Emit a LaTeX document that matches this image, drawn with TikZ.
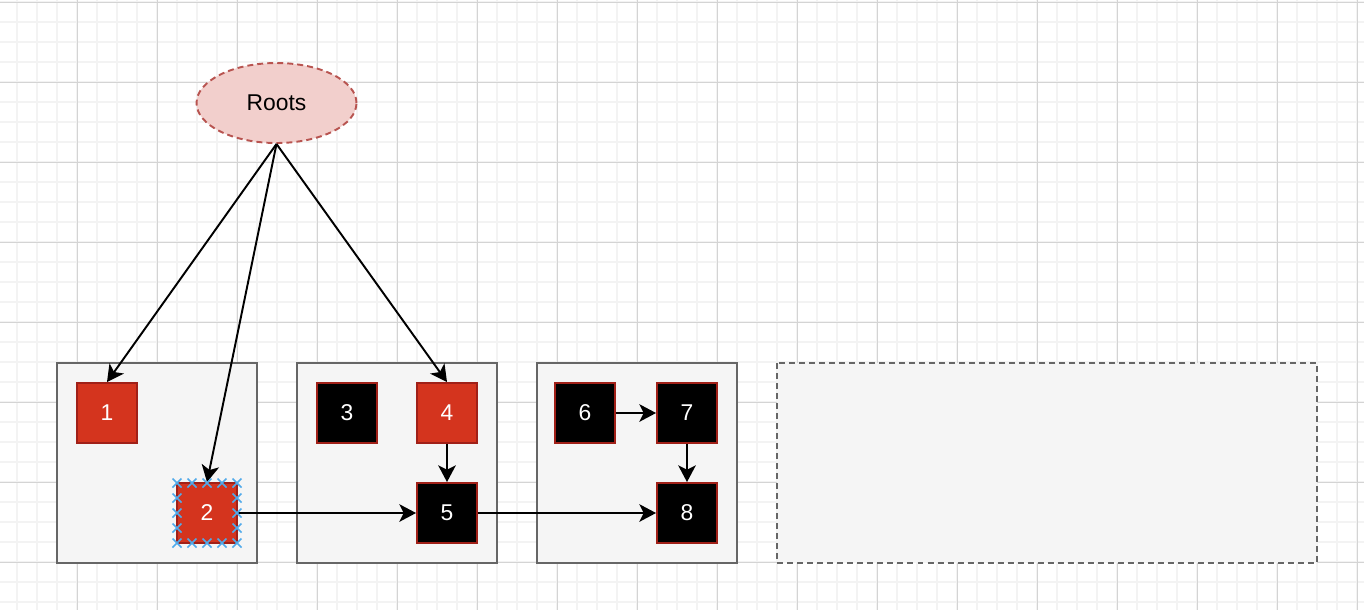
\documentclass[tikz,border=0pt]{standalone}
\usepackage{fontspec}
\setmainfont{Liberation Sans}
\usetikzlibrary{arrows.meta,shapes.geometric}

\definecolor{redfill}{RGB}{212,52,30}
\definecolor{objline}{RGB}{160,32,24}
\definecolor{rootfill}{RGB}{242,207,204}
\definecolor{rootline}{RGB}{184,84,80}
\definecolor{boxfill}{RGB}{245,245,245}
\definecolor{boxline}{RGB}{102,102,102}
\definecolor{minorgrid}{RGB}{243,243,243}
\definecolor{majorgrid}{RGB}{212,212,212}
\definecolor{handle}{RGB}{80,170,235}

\begin{document}
\begin{tikzpicture}[x=0.02cm,y=-0.02cm,
  region/.style={draw=boxline,fill=boxfill,line width=1.1pt},
  obj/.style={draw=objline,line width=1.1pt,minimum size=1.2cm,inner sep=0pt,
    text=white,font=\fontsize{13}{15}\selectfont},
  live/.style={obj,fill=redfill},
  dead/.style={obj,fill=black},
  ref/.style={line width=1.1pt,-{Stealth[length=9.5pt,width=10pt,inset=2.5pt]}},
  selmark/.style={draw=handle,line width=0.9pt}]
\useasboundingbox (0,0) rectangle (1364,610);
\fill[white] (0,0) rectangle (1364,610);

% grid
\foreach \x in {17,37,...,1357} \draw[minorgrid,line width=0.9pt] (\x,0) -- (\x,610);
\foreach \y in {2,22,...,602} \draw[minorgrid,line width=0.9pt] (0,\y) -- (1364,\y);
\foreach \x in {77,157,...,1357} \draw[majorgrid,line width=0.5pt] (\x,0) -- (\x,610);
\foreach \y in {2,82,...,562} \draw[majorgrid,line width=0.5pt] (0,\y) -- (1364,\y);

% regions
\draw[region] (57,363) rectangle (257,563);
\draw[region] (297,363) rectangle (497,563);
\draw[region] (537,363) rectangle (737,563);
\draw[region,dash pattern=on 3.4pt off 2.3pt] (777,363) rectangle (1317,563);

% objects
\node[ellipse,draw=rootline,fill=rootfill,line width=1.1pt,dash pattern=on 3.4pt off 2.3pt,
  minimum width=3.2cm,minimum height=1.6cm,font=\fontsize{13}{15}\selectfont] (roots) at (276.5,103) {Roots};
\node[live] (n1) at (107,413) {1};
\node[live] (n2) at (207,513) {2};
\node[dead] (n3) at (347,413) {3};
\node[live] (n4) at (447,413) {4};
\node[dead] (n5) at (447,513) {5};
\node[dead] (n6) at (585,413) {6};
\node[dead] (n7) at (687,413) {7};
\node[dead] (n8) at (687,513) {8};

% references
\draw[ref] (roots.south) -- (n1.north);
\draw[ref] (roots.south) -- (n2.north);
\draw[ref] (roots.south) -- (n4.north);
\draw[ref] (n4) -- (n5);
\draw[ref] (n2) -- (n5);
\draw[ref] (n5) -- (n8);
\draw[ref] (n6) -- (n7);
\draw[ref] (n7) -- (n8);

% selection handles on 2
\foreach \x in {177,192,207,222,237}
  \foreach \y in {483,543}
    \draw[selmark] (\x,\y) ++(-4.5,-4.5) -- ++(9,9) ++(-9,0) -- ++(9,-9);
\foreach \x in {177,237}
  \foreach \y in {498,513,528}
    \draw[selmark] (\x,\y) ++(-4.5,-4.5) -- ++(9,9) ++(-9,0) -- ++(9,-9);
\end{tikzpicture}
\end{document}
